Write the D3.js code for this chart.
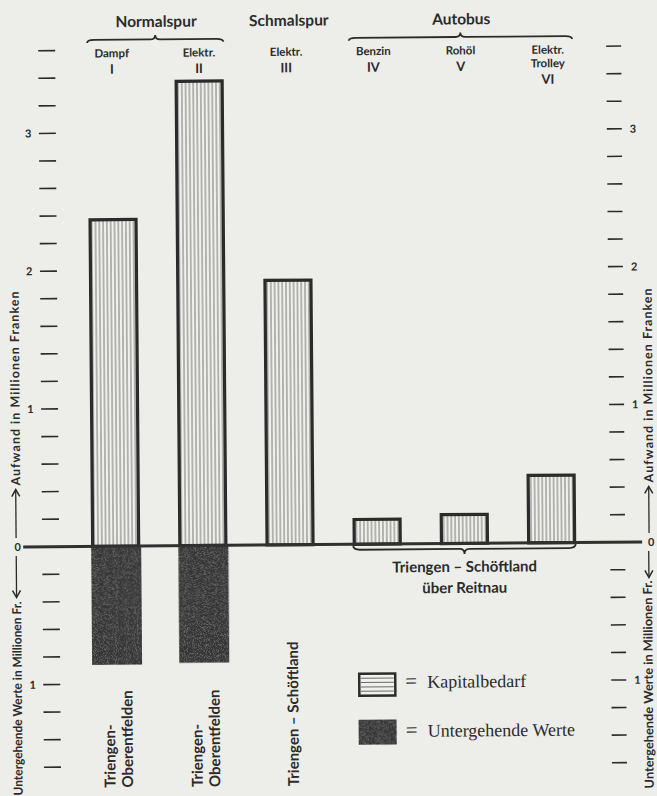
<!DOCTYPE html>
<html>
<head>
<meta charset="utf-8">
<script src="https://cdn.jsdelivr.net/npm/d3@7"></script>
<style>
  html, body { margin: 0; padding: 0; background: #edede9; }
  svg { display: block; }
  .sans { font-family: "Lato", "DejaVu Sans", sans-serif; font-weight: 700; fill: #2b2b2b; }
  .serif { font-family: "Liberation Serif", "DejaVu Serif", serif; fill: #2b2b2b; }
</style>
</head>
<body>
<svg id="chart" width="657" height="796"></svg>
<script>
// ---------- data ----------
const categories = ["I", "II", "III", "IV", "V", "VI"];
const typeLabels = [["Dampf"], ["Elektr."], ["Elektr."], ["Benzin"], ["Rohöl"], ["Elektr.", "Trolley"]];
const kapitalbedarf = [2.37, 3.37, 1.92, 0.18, 0.21, 0.49];      // Mio. Fr., upward
const untergehendeWerte = [0.86, 0.85, 0, 0, 0, 0];              // Mio. Fr., downward
const groupNames = ["Normalspur", "Schmalspur", "Autobus"];
const groupMembers = [["I", "II"], ["III"], ["IV", "V", "VI"]];
const routeLabels = [["Triengen-", "Oberentfelden"], ["Triengen-", "Oberentfelden"], ["Triengen – Schöftland"]];
const busRouteLabel = ["Triengen – Schöftland", "über Reitnau"];
const upTicks = [0.2, 0.4, 0.6, 0.8, 1, 1.2, 1.4, 1.6, 1.8, 2, 2.2, 2.4, 2.6, 2.8, 3, 3.2, 3.4, 3.6];
const downTicks = [0.2, 0.4, 0.6, 0.8, 1, 1.2, 1.4, 1.6];
const upTickLabels = [1, 2, 3];
const downTickLabels = [1];
const legendLabels = ["Kapitalbedarf", "Untergehende Werte"];
const axisTitleUp = "Aufwand in Millionen Franken";
const axisTitleDown = "Untergehende Werte in Millionen Fr.";

// ---------- setup ----------
const W = 657, H = 796;
const svg = d3.select("#chart");
const ink = "#2b2b2b";
const paper = "#edede9";

const defs = svg.append("defs");
const vh = defs.append("pattern").attr("id", "vhatch").attr("patternUnits", "userSpaceOnUse")
  .attr("width", 3.8).attr("height", 10);
vh.append("rect").attr("width", 3.8).attr("height", 10).attr("fill", "#f0f0ec");
vh.append("line").attr("x1", 1.9).attr("x2", 1.9).attr("y1", 0).attr("y2", 10)
  .attr("stroke", "#787878").attr("stroke-width", 1);

const f = defs.append("filter").attr("id", "grain").attr("x", 0).attr("y", 0).attr("width", "100%").attr("height", "100%");
f.append("feTurbulence").attr("type", "fractalNoise").attr("baseFrequency", 1.1).attr("numOctaves", 2).attr("seed", 4).attr("result", "noise");
f.append("feColorMatrix").attr("in", "noise").attr("type", "matrix")
  .attr("values", "0 0 0 0 0.55  0 0 0 0 0.55  0 0 0 0 0.55  0.8 0 0 0 -0.38").attr("result", "spots");
f.append("feComposite").attr("in", "spots").attr("in2", "SourceGraphic").attr("operator", "in").attr("result", "clipped");
const fm = f.append("feMerge");
fm.append("feMergeNode").attr("in", "SourceGraphic");
fm.append("feMergeNode").attr("in", "clipped");

svg.append("rect").attr("width", W).attr("height", H).attr("fill", paper);

// slight tilt of the scanned page
const g = svg.append("g").attr("transform", "rotate(-0.46, 330, 400)");

// ---------- scales ----------
const y0 = 544.5, unit = 137.8;
const y = d3.scaleLinear().domain([-1.6, 3.6]).range([y0 + 1.6 * unit, y0 - 3.6 * unit]);
const x = d3.scaleBand().domain(categories).range([91.5, 573.5]).paddingInner(0.4725).paddingOuter(0);
const bw = x.bandwidth();
const cx = c => x(c) + bw / 2;

// ---------- axes (tick marks on both sides) ----------
function sideAxis(x1, x2, labelX, anchor) {
  const ax = g.append("g");
  ax.selectAll("line.up").data(upTicks).join("line").attr("class", "up")
    .attr("x1", x1).attr("x2", x2).attr("y1", d => y(d)).attr("y2", d => y(d))
    .attr("stroke", ink).attr("stroke-width", 1.6);
  ax.selectAll("line.down").data(downTicks).join("line").attr("class", "down")
    .attr("x1", x1).attr("x2", x2).attr("y1", d => y(-d)).attr("y2", d => y(-d))
    .attr("stroke", ink).attr("stroke-width", 1.6);
  ax.selectAll("text.up").data(upTickLabels).join("text").attr("class", "sans up")
    .attr("x", labelX).attr("y", d => y(d) + 4).attr("text-anchor", anchor)
    .attr("font-size", 11).text(d => d);
  ax.selectAll("text.down").data(downTickLabels).join("text").attr("class", "sans down")
    .attr("x", labelX).attr("y", d => y(-d) + 4).attr("text-anchor", anchor)
    .attr("font-size", 11).text(d => d);
}
sideAxis(41, 58, 33.5, "end");
sideAxis(609, 624, 632, "start");

// ---------- bars ----------
g.selectAll("rect.kap").data(categories).join("rect").attr("class", "kap")
  .attr("x", d => x(d)).attr("width", bw)
  .attr("y", (d, i) => y(kapitalbedarf[i]))
  .attr("height", (d, i) => y(0) - y(kapitalbedarf[i]))
  .attr("fill", "url(#vhatch)").attr("stroke", ink).attr("stroke-width", 3.2);

g.selectAll("rect.unt").data(categories.filter((d, i) => untergehendeWerte[i] > 0)).join("rect").attr("class", "unt")
  .attr("x", d => x(d) - 1.5).attr("width", bw + 4)
  .attr("y", y(0))
  .attr("height", d => y(-untergehendeWerte[categories.indexOf(d)]) - y(0))
  .attr("fill", "#363636").attr("filter", "url(#grain)");

// zero line
g.append("line").attr("x1", 22).attr("x2", 641).attr("y1", y(0)).attr("y2", y(0))
  .attr("stroke", "#303030").attr("stroke-width", 3);
g.append("text").attr("class", "sans").attr("x", 16.5).attr("y", y(0) + 4).attr("text-anchor", "middle").attr("font-size", 11).text("0");
g.append("text").attr("class", "sans").attr("x", 650).attr("y", y(0) + 4).attr("text-anchor", "middle").attr("font-size", 11).text("0");

// ---------- braces ----------
function bracePath(x1, x2, yEnd, yLine, yTip, xm) {
  const r = 7, rt = 5;
  return `M${x1},${yEnd} Q${x1},${yLine} ${x1 + r},${yLine} L${xm - rt},${yLine} Q${xm},${yLine} ${xm},${yTip} ` +
         `Q${xm},${yLine} ${xm + rt},${yLine} L${x2 - r},${yLine} Q${x2},${yLine} ${x2},${yEnd}`;
}
const braceGroups = groupMembers.map((m, i) => ({ name: groupNames[i], members: m }));
braceGroups.forEach(gr => {
  const first = gr.members[0], last = gr.members[gr.members.length - 1];
  const mid = (cx(first) + cx(last)) / 2;
  g.append("text").attr("class", "sans").attr("x", mid + (gr.members.length === 1 ? 3 : 1))
    .attr("y", 25.5).attr("text-anchor", "middle").attr("font-size", 15.5).text(gr.name);
  if (gr.members.length > 1) {
    g.append("path").attr("d", bracePath(x(first) - 1.5, x(last) + bw + 1.5, 41, 38, 33.5, mid))
      .attr("fill", "none").attr("stroke", ink).attr("stroke-width", 1.8);
  }
});

// type labels + roman numerals
categories.forEach((c, i) => {
  const lines = typeLabels[i];
  lines.forEach((t, j) => {
    g.append("text").attr("class", "sans").attr("x", cx(c)).attr("y", 55.5 + j * 13.5)
      .attr("text-anchor", "middle").attr("font-size", 11.5).text(t);
  });
  g.append("text").attr("class", "sans").attr("x", cx(c)).attr("y", 55.5 + (lines.length - 1) * 13.5 + 16.5)
    .attr("text-anchor", "middle").attr("font-size", 13).text(c);
});

// ---------- route labels under rail bars (rotated) ----------
routeLabels.forEach((lines, i) => {
  const c = categories[i];
  const offs = lines.length === 2 ? [-2, 15.5] : [7];
  lines.forEach((t, j) => {
    const bx = cx(c) + offs[j];
    g.append("text").attr("class", "sans")
      .attr("transform", `translate(${bx},786) rotate(-90)`)
      .attr("x", 0).attr("y", 0).attr("text-anchor", "start").attr("font-size", 15).text(t);
  });
});

// bus route brace and label
{
  const first = "IV", last = "VI";
  const mid = (cx(first) + cx(last)) / 2;
  g.append("path").attr("d", bracePath(x(first) - 1, x(last) + bw + 1, 546, 550, 555, mid))
    .attr("fill", "none").attr("stroke", ink).attr("stroke-width", 1.8);
  busRouteLabel.forEach((t, j) => {
    g.append("text").attr("class", "sans").attr("x", mid).attr("y", 573 + j * 21)
      .attr("text-anchor", "middle").attr("font-size", 15).text(t);
  });
}

// ---------- axis titles ----------
function arrow(xa, yFrom, yTip, dir) {
  g.append("line").attr("x1", xa).attr("x2", xa).attr("y1", yFrom).attr("y2", yTip)
    .attr("stroke", ink).attr("stroke-width", 1.3);
  g.append("path").attr("d", `M${xa - 4},${yTip - dir * 7} L${xa},${yTip} L${xa + 4},${yTip - dir * 7}`)
    .attr("fill", "none").attr("stroke", ink).attr("stroke-width", 1.5);
}
// left
arrow(15, y0 - 9, 487, -1);
g.append("text").attr("class", "sans").attr("transform", `translate(19.5,483) rotate(-90)`)
  .attr("text-anchor", "start").attr("font-size", 12.5).attr("textLength", 194).attr("lengthAdjust", "spacing").text(axisTitleUp);
arrow(15, y0 + 9, 595, 1);
g.append("text").attr("class", "sans").attr("transform", `translate(19.5,599) rotate(-90)`)
  .attr("text-anchor", "end").attr("font-size", 12.5).attr("textLength", 194).attr("lengthAdjust", "spacingAndGlyphs").text(axisTitleDown);
// right
arrow(648, y0 - 9, 489, -1);
g.append("text").attr("class", "sans").attr("transform", `translate(652.5,485) rotate(-90)`)
  .attr("text-anchor", "start").attr("font-size", 12.5).attr("textLength", 194).attr("lengthAdjust", "spacing").text(axisTitleUp);
arrow(647.5, y0 + 9, 580, 1);
g.append("text").attr("class", "sans").attr("transform", `translate(650.5,583) rotate(-90)`)
  .attr("text-anchor", "end").attr("font-size", 12.5).attr("textLength", 208).attr("lengthAdjust", "spacingAndGlyphs").text(axisTitleDown);

// ---------- legend ----------
const legend = g.append("g");
const lb = { x: 357, y: 674, w: 36, h: 22 };
legend.append("rect").attr("x", lb.x).attr("y", lb.y).attr("width", lb.w).attr("height", lb.h)
  .attr("fill", "#f0f0ec").attr("stroke", ink).attr("stroke-width", 2.5);
legend.selectAll("line.lh").data([1, 2, 3, 4]).join("line").attr("class", "lh")
  .attr("x1", lb.x + 1.5).attr("x2", lb.x + lb.w - 1.5)
  .attr("y1", d => lb.y + d * lb.h / 5).attr("y2", d => lb.y + d * lb.h / 5)
  .attr("stroke", "#6a6a6a").attr("stroke-width", 1);
legend.append("rect").attr("x", 356).attr("y", 720).attr("width", 38).attr("height", 25)
  .attr("fill", "#363636").attr("filter", "url(#grain)");
legendLabels.forEach((t, i) => {
  const by = [688.5, 737.5][i];
  legend.append("text").attr("class", "serif").attr("x", 403).attr("y", by).attr("font-size", 21).text("=");
  legend.append("text").attr("class", "serif").attr("x", 425).attr("y", by).attr("font-size", 18).text(t);
});
</script>
</body>
</html>
